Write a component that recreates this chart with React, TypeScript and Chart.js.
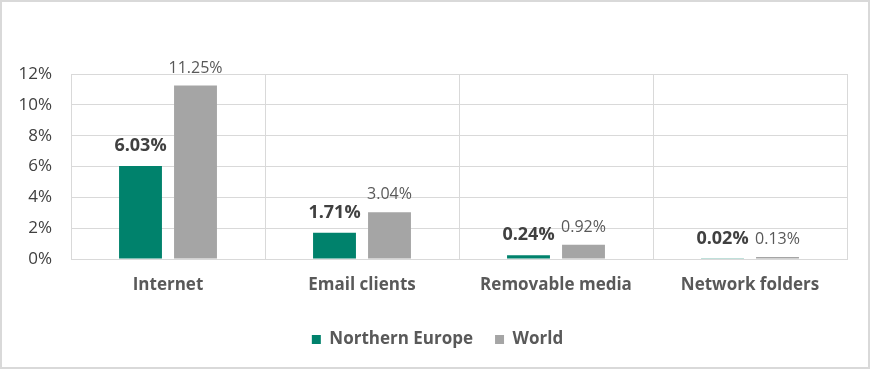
import React, { useEffect, useRef } from "react";
import { Chart, registerables } from "chart.js";

Chart.register(...registerables);

const categories = ["Internet", "Email clients", "Removable media", "Network folders"];
const northernEurope = [6.03, 1.71, 0.24, 0.02];
const world = [11.25, 3.04, 0.92, 0.13];
const yTicks = [0, 2, 4, 6, 8, 10, 12];

const FONT = "'Open Sans', sans-serif";

const dataLabelPlugin = {
  id: "dataLabels",
  afterDatasetsDraw(chart: any) {
    const ctx = chart.ctx;
    chart.data.datasets.forEach((ds: any, i: number) => {
      const meta = chart.getDatasetMeta(i);
      meta.data.forEach((bar: any, j: number) => {
        const v = ds.data[j];
        ctx.save();
        ctx.textAlign = "center";
        ctx.textBaseline = "alphabetic";
        if (i === 0) {
          ctx.font = `bold 18px ${FONT}`;
          ctx.fillStyle = "#404040";
          ctx.fillText(v.toFixed(2) + "%", bar.x, bar.y - 15);
        } else {
          ctx.font = `16px ${FONT}`;
          ctx.fillStyle = "#595959";
          ctx.fillText(v.toFixed(2) + "%", bar.x, bar.y - 13);
        }
        ctx.restore();
      });
    });
  },
};

// nudge the legend box to the reference position after layout
const legendShift = {
  id: "legendShift",
  afterLayout(chart: any) {
    const lg = chart.legend;
    if (!lg) return;
    lg.left += 13;
    lg.right += 13;
    lg.top += 12;
    lg.bottom += 12;
  },
};

export default function App() {
  const ref = useRef<HTMLCanvasElement>(null);
  useEffect(() => {
    if (!ref.current) return;
    const chart = new Chart(ref.current, {
      type: "bar",
      data: {
        labels: categories,
        datasets: [
          {
            label: "Northern Europe",
            data: northernEurope,
            backgroundColor: "#00826C",
            categoryPercentage: 0.567,
            barPercentage: 0.78,
          },
          {
            label: "World",
            data: world,
            backgroundColor: "#A5A5A5",
            categoryPercentage: 0.567,
            barPercentage: 0.78,
          },
        ],
      },
      options: {
        responsive: false,
        animation: false,
        devicePixelRatio: 1,
        layout: { padding: { top: 72, right: 21, left: 0, bottom: 21 } },
        plugins: {
          legend: {
            position: "bottom",
            labels: {
              boxWidth: 9,
              boxHeight: 9,
              padding: 22,
              color: "#595959",
              font: { family: FONT, size: 17, weight: "bold" },
            },
          },
          tooltip: { enabled: false },
        },
        scales: {
          x: {
            grid: { offset: true, color: "#D9D9D9", drawTicks: false },
            border: { color: "#D9D9D9" },
            ticks: {
              color: "#595959",
              padding: 16,
              font: { family: FONT, size: 17, weight: "bold" },
            },
            afterFit(scale: any) {
              scale.height = 38;
            },
          },
          y: {
            min: 0,
            max: 12,
            afterBuildTicks(scale: any) {
              scale.ticks = yTicks.map((v) => ({ value: v }));
            },
            grid: { color: "#D9D9D9", drawTicks: false },
            border: { display: false },
            ticks: {
              color: "#404040",
              padding: 19,
              font: { family: FONT, size: 17 },
              callback: (v: any) => v + "%",
            },
            afterFit(scale: any) {
              scale.width = 69;
            },
          },
        },
      },
      plugins: [dataLabelPlugin, legendShift],
    });
    return () => chart.destroy();
  }, []);

  return (
    <div
      style={{
        position: "absolute",
        left: 0,
        top: 0,
        width: 870,
        height: 369,
        boxSizing: "border-box",
        border: "2px solid #D9D9D9",
        background: "#fff",
      }}
    >
      <canvas ref={ref} width={866} height={365} style={{ display: "block" }} />
    </div>
  );
}
